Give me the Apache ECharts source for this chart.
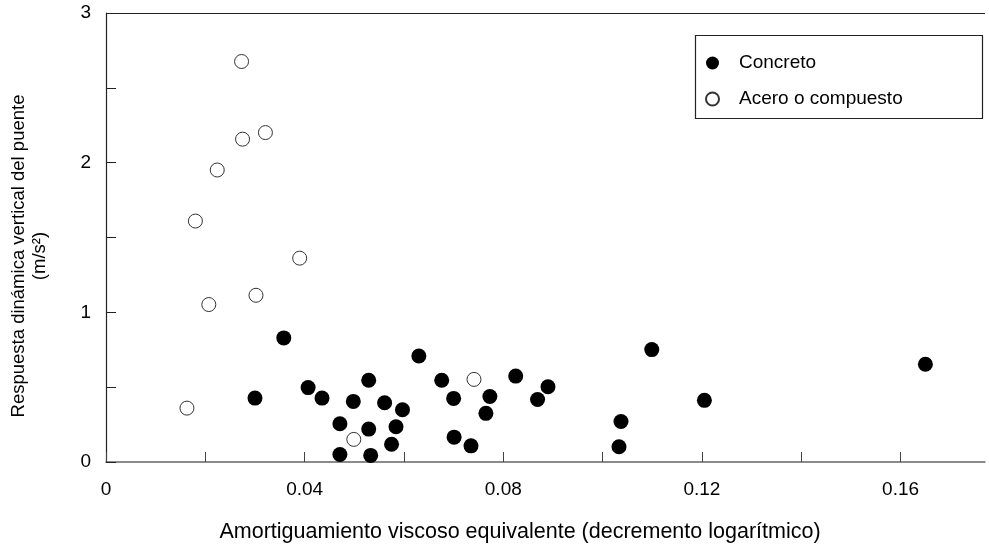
<!DOCTYPE html>
<html>
<head>
<meta charset="utf-8">
<script src="https://cdn.jsdelivr.net/npm/echarts@6/dist/echarts.min.js"></script>
<style>
  html, body { margin: 0; padding: 0; background: #fff; }
  #chart { width: 989px; height: 550px; }
</style>
</head>
<body>
<div id="chart"></div>
<script>
// Puentes de concreto: [amortiguamiento, respuesta (m/s²)]
const concreto = [
  [0.0358, 0.829], [0.0300, 0.427], [0.0407, 0.497], [0.0435, 0.427],
  [0.0471, 0.256], [0.0471, 0.050], [0.0498, 0.405], [0.0529, 0.546],
  [0.0529, 0.220], [0.0533, 0.044], [0.0561, 0.396], [0.0597, 0.349],
  [0.0584, 0.236], [0.0575, 0.119], [0.0630, 0.708], [0.0676, 0.546],
  [0.0700, 0.425], [0.0701, 0.166], [0.0735, 0.108], [0.0773, 0.438],
  [0.0765, 0.325], [0.0825, 0.574], [0.0890, 0.503], [0.0869, 0.418],
  [0.1099, 0.751], [0.1205, 0.412], [0.1037, 0.271], [0.1033, 0.102],
  [0.1650, 0.653]
];

// Puentes de acero o sección compuesta
const aceroCompuesto = [
  [0.0273, 2.676], [0.0321, 2.201], [0.0275, 2.157], [0.0224, 1.951],
  [0.0180, 1.610], [0.0390, 1.362], [0.0207, 1.052], [0.0302, 1.114],
  [0.0163, 0.360], [0.0499, 0.151], [0.0741, 0.552]
];

const xTickLabels = ['0', '0.04', '0.08', '0.12', '0.16'];
const yTickLabels = ['0', '1', '2', '3'];

const FONT = 'Liberation Sans, Arial, sans-serif';
const chart = echarts.init(document.getElementById('chart'));

chart.setOption({
  animation: false,
  backgroundColor: '#fff',
  textStyle: { fontFamily: FONT, color: '#000' },
  grid: { left: 106, top: 13, right: 4, bottom: 88, containLabel: false },
  xAxis: {
    type: 'value', min: 0, max: 0.177, interval: 0.02,
    axisLine: { show: true, lineStyle: { color: '#666', width: 1.5 } },
    axisTick: { show: true, inside: true, length: 10, lineStyle: { color: '#444', width: 1 } },
    axisLabel: {
      fontSize: 19, color: '#000', margin: 18, showMaxLabel: false,
      formatter: v => {
        const k = Math.round(v * 100);
        return k % 4 === 0 ? xTickLabels[k / 4] || '' : '';
      }
    },
    splitLine: { show: false }
  },
  yAxis: {
    type: 'value', min: 0, max: 3, interval: 0.5,
    axisLine: { show: true, lineStyle: { color: '#222', width: 1.2 } },
    axisTick: { show: true, inside: true, length: 10, lineStyle: { color: '#222', width: 1 } },
    axisLabel: {
      fontSize: 19, color: '#000', margin: 15,
      formatter: v => (Number.isInteger(v) ? yTickLabels[v] : '')
    },
    splitLine: { show: false }
  },
  legend: {
    orient: 'vertical', left: 700, top: 47,
    itemWidth: 13, itemHeight: 13, itemGap: 14,
    textStyle: { fontSize: 19, color: '#000', lineHeight: 22, padding: [0, 0, 0, 15] },
    data: [
      { name: 'Concreto', icon: 'circle' },
      { name: 'Acero o compuesto', icon: 'circle' }
    ]
  },
  graphic: [
    // marco superior del área de trazado
    { type: 'line', shape: { x1: 106, y1: 13.5, x2: 985, y2: 13.5 }, style: { stroke: '#222', lineWidth: 1.2 } },
    // recuadro de la leyenda
    { type: 'rect', shape: { x: 695.5, y: 35.5, width: 287, height: 83 }, style: { fill: 'none', stroke: '#222', lineWidth: 1.2 } },
    {
      type: 'text', x: 520, y: 532,
      style: { text: 'Amortiguamiento viscoso equivalente (decremento logarítmico)', font: '21.5px ' + FONT, fill: '#000', align: 'center', verticalAlign: 'middle' }
    },
    {
      type: 'text', x: 19, y: 256, rotation: Math.PI / 2,
      style: { text: 'Respuesta dinámica vertical del puente', font: '18.5px ' + FONT, fill: '#000', align: 'center', verticalAlign: 'middle' }
    },
    {
      type: 'text', x: 40, y: 256, rotation: Math.PI / 2,
      style: { text: '(m/s²)', font: '18.5px ' + FONT, fill: '#000', align: 'center', verticalAlign: 'middle' }
    }
  ],
  series: [
    {
      name: 'Concreto', type: 'scatter', data: concreto,
      symbol: 'circle', symbolSize: 15,
      itemStyle: { color: '#000', borderColor: '#000', borderWidth: 0, opacity: 1 },
      z: 3
    },
    {
      name: 'Acero o compuesto', type: 'scatter', data: aceroCompuesto,
      symbol: 'circle', symbolSize: 14,
      itemStyle: { color: '#fff', borderColor: '#333', borderWidth: 1, opacity: 1 },
      z: 4
    }
  ]
});
</script>
</body>
</html>
